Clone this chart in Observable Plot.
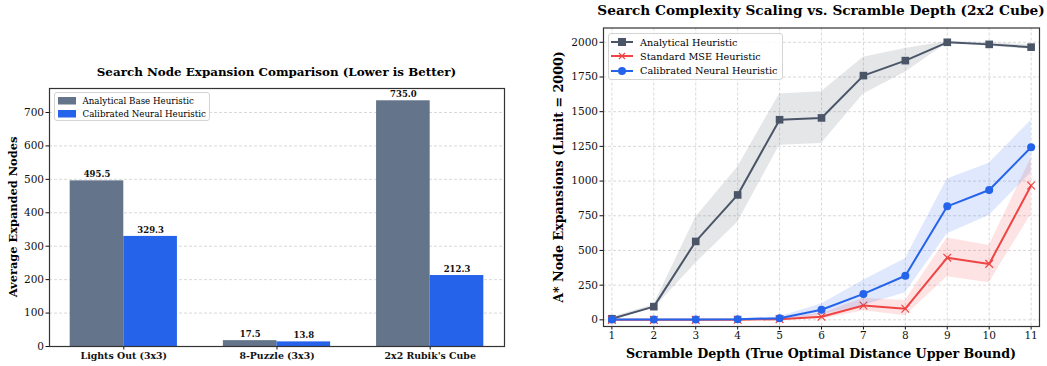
<!DOCTYPE html>
<html>
<head>
<meta charset="utf-8">
<script src="https://cdn.jsdelivr.net/npm/d3@7"></script>
<script src="https://cdn.jsdelivr.net/npm/@observablehq/plot@0.6"></script>
<style>
  html, body { margin: 0; padding: 0; background: #fff; }
  #wrap { position: relative; width: 1047px; height: 366px; overflow: hidden; font-family: "DejaVu Serif", serif; color: #000; }
  .abs { position: absolute; white-space: nowrap; }
  .title { font-weight: bold; transform: translate(-50%, -50%); }
  .ylab { font-weight: bold; transform: translate(-50%, -50%) rotate(-90deg); }
  .xlab { font-weight: bold; transform: translate(-50%, -50%); }
  .legend { background: rgba(255,255,255,0.85); border: 1px solid #d4d4d4; border-radius: 3px; box-sizing: border-box; }
  .li { position: absolute; display: flex; align-items: center; }
  .li svg { display: block; }
  .li span { margin-left: 7px; }
</style>
</head>
<body>
<div id="wrap"></div>
<script>
// ---------- Left chart data ----------
const categories = ["Lights Out (3x3)", "8-Puzzle (3x3)", "2x2 Rubik's Cube"];
const analyticalBase = [495.5, 17.5, 735.0];
const calibratedNeural = [329.3, 13.8, 212.3];
const barTicks = [0, 100, 200, 300, 400, 500, 600, 700];

// ---------- Right chart data ----------
const depth = [1, 2, 3, 4, 5, 6, 7, 8, 9, 10, 11];
const analytical = [8, 95, 565, 900, 1442, 1455, 1760, 1868, 2000, 1985, 1965];
const analyticalLo = [0, 82, 408, 703, 1258, 1270, 1627, 1784, 1995, 1972, 1948];
const analyticalHi = [18, 108, 740, 1100, 1628, 1643, 1892, 1955, 2005, 1996, 1982];
const mse = [0, 0, 0, 1, 5, 22, 103, 80, 448, 403, 968];
const mseLo = [0, 0, 0, 0, 0, 5, 65, 30, 310, 268, 760];
const mseHi = [0, 0, 0, 3, 12, 45, 155, 140, 590, 536, 1165];
const calibrated = [2, 2, 3, 4, 12, 73, 187, 318, 818, 936, 1244];
const calibratedLo = [0, 0, 0, 0, 3, 35, 103, 195, 620, 752, 1060];
const calibratedHi = [5, 5, 6, 8, 22, 115, 285, 440, 1015, 1128, 1437];
const lineTicks = [0, 250, 500, 750, 1000, 1250, 1500, 1750, 2000];

const GRAY_BAR = "#64748b", BLUE = "#2563eb", DARK = "#4a5568", RED = "#ef4444";
const wrap = document.getElementById("wrap");

// ---------- Left: grouped bars ----------
const bars = categories.flatMap((c, i) => [
  {i, s: "a", value: analyticalBase[i]},
  {i, s: "c", value: calibratedNeural[i]}
]);
const W = 0.35;
const left = Plot.plot({
  width: 520, height: 366,
  marginLeft: 49, marginRight: 16, marginTop: 88, marginBottom: 20,
  style: {fontFamily: "DejaVu Serif", fontSize: "10.5px", color: "#111", background: "transparent", overflow: "visible"},
  x: {domain: [-0.485, 2.485]},
  y: {domain: [0, 771.75]},
  marks: [
    Plot.gridY(barTicks, {stroke: "#bbb", strokeOpacity: 0.7, strokeDasharray: "3,2", strokeWidth: 0.8}),
    Plot.rectY(bars, {
      x1: d => d.s === "a" ? d.i - W : d.i,
      x2: d => d.s === "a" ? d.i : d.i + W,
      y1: 0, y2: "value",
      fill: d => d.s === "a" ? GRAY_BAR : BLUE
    }),
    Plot.text(bars, {
      x: d => d.s === "a" ? d.i - W / 2 : d.i + W / 2,
      y: "value",
      text: d => d.value.toFixed(1),
      lineAnchor: "bottom", dy: -3.5,
      fontWeight: "bold", fontSize: 8.5, fill: "#111"
    }),
    Plot.axisY(barTicks, {tickSize: 3.5, tickPadding: 2, label: null, fontSize: 10.5, tickFormat: d => String(d)}),
    Plot.axisX([0, 1, 2], {tickSize: 3.5, tickPadding: 2, label: null, tickFormat: i => categories[i], fontWeight: "bold", fontSize: 9.4}),
    Plot.frame({stroke: "#333", strokeWidth: 1.2})
  ]
});
left.style.position = "absolute"; left.style.left = "0px"; left.style.top = "0px";
wrap.appendChild(left);

// ---------- Right: lines with bands ----------
const rows = depth.map((d, k) => ({
  d,
  a: analytical[k], aLo: analyticalLo[k], aHi: analyticalHi[k],
  m: mse[k], mLo: mseLo[k], mHi: mseHi[k],
  c: calibrated[k], cLo: calibratedLo[k], cHi: calibratedHi[k]
}));
const right = Plot.plot({
  width: 507, height: 366,
  marginLeft: 63, marginRight: 8, marginTop: 27.5, marginBottom: 40,
  style: {fontFamily: "DejaVu Serif", fontSize: "10.5px", color: "#111", background: "transparent", overflow: "visible"},
  x: {domain: [0.8, 11.2]},
  y: {domain: [-48, 2103]},
  marks: [
    Plot.gridX(depth, {stroke: "#bbb", strokeOpacity: 0.7, strokeDasharray: "3,2", strokeWidth: 0.8}),
    Plot.gridY(lineTicks, {stroke: "#bbb", strokeOpacity: 0.7, strokeDasharray: "3,2", strokeWidth: 0.8}),
    Plot.areaY(rows, {x: "d", y1: "aLo", y2: "aHi", fill: DARK, fillOpacity: 0.15}),
    Plot.line(rows, {x: "d", y: "a", stroke: DARK, strokeWidth: 2}),
    Plot.dot(rows, {x: "d", y: "a", symbol: "square", r: 4.3, fill: DARK}),
    Plot.areaY(rows, {x: "d", y1: "mLo", y2: "mHi", fill: RED, fillOpacity: 0.15}),
    Plot.line(rows, {x: "d", y: "m", stroke: RED, strokeWidth: 2}),
    Plot.dot(rows, {x: "d", y: "m", symbol: "times", r: 3.6, stroke: RED, strokeWidth: 1.2}),
    Plot.areaY(rows, {x: "d", y1: "cLo", y2: "cHi", fill: BLUE, fillOpacity: 0.15}),
    Plot.line(rows, {x: "d", y: "c", stroke: BLUE, strokeWidth: 2}),
    Plot.dot(rows, {x: "d", y: "c", r: 4, fill: BLUE}),
    Plot.axisY(lineTicks, {tickSize: 3.5, tickPadding: 2, label: null, fontSize: 10.5, tickFormat: d => String(d)}),
    Plot.axisX(depth, {tickSize: 3.5, tickPadding: 2, label: null, fontSize: 10.5, tickFormat: d => String(d)}),
    Plot.frame({stroke: "#333", strokeWidth: 1.2})
  ]
});
right.style.position = "absolute"; right.style.left = "540px"; right.style.top = "0px";
wrap.appendChild(right);

// ---------- Text: titles & axis labels ----------
function addText(cls, txt, x, y, size) {
  const el = document.createElement("div");
  el.className = "abs " + cls;
  el.textContent = txt;
  el.style.left = x + "px"; el.style.top = y + "px"; el.style.fontSize = size + "px";
  wrap.appendChild(el);
  return el;
}
addText("title", "Search Node Expansion Comparison (Lower is Better)", 276.5, 72, 11.9);
addText("ylab", "Average Expanded Nodes", 13, 217, 11.4);
addText("title", "Search Complexity Scaling vs. Scramble Depth (2x2 Cube)", 821, 9.5, 13.7);
addText("ylab", "A* Node Expansions (Limit = 2000)", 558, 177, 12.7);
addText("xlab", "Scramble Depth (True Optimal Distance Upper Bound)", 821, 352.5, 12.7);

// ---------- Legends ----------
function legend(x, y, w, h, items, fs) {
  const box = document.createElement("div");
  box.className = "abs legend";
  Object.assign(box.style, {left: x + "px", top: y + "px", width: w + "px", height: h + "px"});
  wrap.appendChild(box);
  items.forEach(it => {
    const li = document.createElement("div");
    li.className = "li";
    li.style.left = it.x + "px"; li.style.top = (it.y - 7) + "px"; li.style.height = "14px";
    li.style.fontSize = fs + "px";
    li.innerHTML = it.svg + `<span>${it.label}</span>`;
    box.appendChild(li);
  });
}
const sw = c => `<svg width="18" height="8"><rect width="18" height="7.5" fill="${c}"/></svg>`;
legend(54, 92, 156, 29, [
  {x: 2.5, y: 8, label: "Analytical Base Heuristic", svg: sw(GRAY_BAR)},
  {x: 2.5, y: 20.5, label: "Calibrated Neural Heuristic", svg: sw(BLUE)}
], 8.7);
const lineSw = (c, m) => `<svg width="22" height="12"><line x1="0" x2="22" y1="6" y2="6" stroke="${c}" stroke-width="2"/>${m}</svg>`;
legend(607.5, 32.5, 175, 47, [
  {x: 2.5, y: 8.5, label: "Analytical Heuristic", svg: lineSw(DARK, `<rect x="7" y="2" width="8" height="8" fill="${DARK}"/>`)},
  {x: 2.5, y: 22.5, label: "Standard MSE Heuristic", svg: lineSw(RED, `<path d="M8,3L14,9M14,3L8,9" stroke="${RED}" stroke-width="1.2"/>`)},
  {x: 2.5, y: 37, label: "Calibrated Neural Heuristic", svg: lineSw(BLUE, `<circle cx="11" cy="6" r="4" fill="${BLUE}"/>`)}
], 9.7);
</script>
</body>
</html>
